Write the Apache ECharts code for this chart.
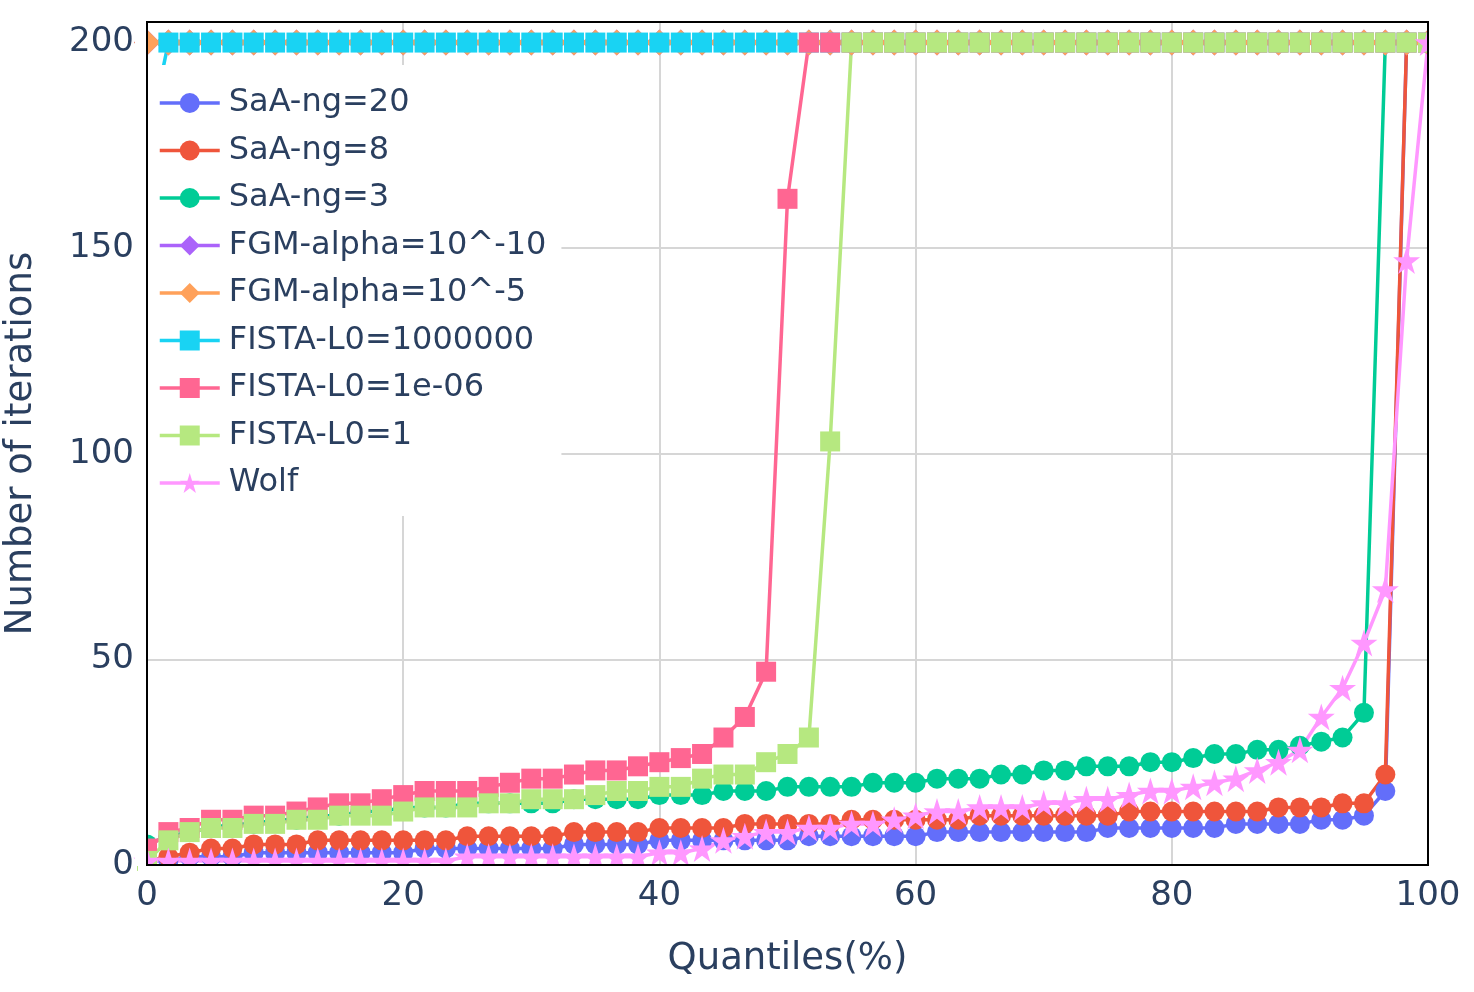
<!DOCTYPE html>
<html>
<head>
<meta charset="utf-8">
<script src="https://cdn.jsdelivr.net/npm/echarts@6/dist/echarts.min.js"></script>
<style>
  html, body { margin: 0; padding: 0; background: #fff; }
  #chart { width: 1474px; height: 992px; }
</style>
</head>
<body>
<div id="chart"></div>
<script>
// quantile positions (%) of the 61 points
const quantiles = [0, 1.67, 3.33, 5, 6.67, 8.33, 10, 11.67, 13.33, 15, 16.67, 18.33, 20, 21.67, 23.33, 25, 26.67, 28.33, 30, 31.67, 33.33, 35, 36.67, 38.33, 40, 41.67, 43.33, 45, 46.67, 48.33, 50, 51.67, 53.33, 55, 56.67, 58.33, 60, 61.67, 63.33, 65, 66.67, 68.33, 70, 71.67, 73.33, 75, 76.67, 78.33, 80, 81.67, 83.33, 85, 86.67, 88.33, 90, 91.67, 93.33, 95, 96.67, 98.33, 100]

const saaNg20 = [1, 1, 2, 2, 2, 3, 3, 3, 3, 3, 3, 3, 3, 4, 4, 4, 4, 4, 4, 4, 5, 5, 5, 5, 6, 6, 6, 6, 6, 6, 6, 7, 7, 7, 7, 7, 7, 8, 8, 8, 8, 8, 8, 8, 8, 9, 9, 9, 9, 9, 9, 10, 10, 10, 10, 11, 11, 12, 18, 200, 200]
const saaNg8 = [1, 2, 3, 4, 4, 5, 5, 5, 6, 6, 6, 6, 6, 6, 6, 7, 7, 7, 7, 7, 8, 8, 8, 8, 9, 9, 9, 9, 10, 10, 10, 10, 10, 11, 11, 11, 11, 11, 11, 12, 12, 12, 12, 12, 12, 12, 13, 13, 13, 13, 13, 13, 13, 14, 14, 14, 15, 15, 22, 200, 200]
const saaNg3 = [5, 7, 8, 9, 10, 10, 11, 11, 12, 12, 13, 13, 14, 14, 14, 15, 15, 15, 15, 15, 16, 16, 16, 16, 17, 17, 17, 18, 18, 18, 19, 19, 19, 19, 20, 20, 20, 21, 21, 21, 22, 22, 23, 23, 24, 24, 24, 25, 25, 26, 27, 27, 28, 28, 29, 30, 31, 37, 200, 200, 200]
const fgmAlpha10 = [200, 200, 200, 200, 200, 200, 200, 200, 200, 200, 200, 200, 200, 200, 200, 200, 200, 200, 200, 200, 200, 200, 200, 200, 200, 200, 200, 200, 200, 200, 200, 200, 200, 200, 200, 200, 200, 200, 200, 200, 200, 200, 200, 200, 200, 200, 200, 200, 200, 200, 200, 200, 200, 200, 200, 200, 200, 200, 200, 200, 200]
const fgmAlpha5 = [200, 200, 200, 200, 200, 200, 200, 200, 200, 200, 200, 200, 200, 200, 200, 200, 200, 200, 200, 200, 200, 200, 200, 200, 200, 200, 200, 200, 200, 200, 200, 200, 200, 200, 200, 200, 200, 200, 200, 200, 200, 200, 200, 200, 200, 200, 200, 200, 200, 200, 200, 200, 200, 200, 200, 200, 200, 200, 200, 200, 200]
const fistaBig = [175, 200, 200, 200, 200, 200, 200, 200, 200, 200, 200, 200, 200, 200, 200, 200, 200, 200, 200, 200, 200, 200, 200, 200, 200, 200, 200, 200, 200, 200, 200, 200, 200, 200, 200, 200, 200, 200, 200, 200, 200, 200, 200, 200, 200, 200, 200, 200, 200, 200, 200, 200, 200, 200, 200, 200, 200, 200, 200, 200, 200]
const fistaTiny = [4, 8, 9, 11, 11, 12, 12, 13, 14, 15, 15, 16, 17, 18, 18, 18, 19, 20, 21, 21, 22, 23, 23, 24, 25, 26, 27, 31, 36, 47, 162, 200, 200, 200, 200, 200, 200, 200, 200, 200, 200, 200, 200, 200, 200, 200, 200, 200, 200, 200, 200, 200, 200, 200, 200, 200, 200, 200, 200, 200, 200]
const fistaOne = [1, 6, 8, 9, 9, 10, 10, 11, 11, 12, 12, 12, 13, 14, 14, 14, 15, 15, 16, 16, 16, 17, 18, 18, 19, 19, 21, 22, 22, 25, 27, 31, 103, 200, 200, 200, 200, 200, 200, 200, 200, 200, 200, 200, 200, 200, 200, 200, 200, 200, 200, 200, 200, 200, 200, 200, 200, 200, 200, 200, 200]
const wolf = [1, 1, 1, 1, 1, 1, 1, 1, 1, 1, 1, 1, 1, 1, 1, 2, 2, 2, 2, 2, 2, 2, 2, 2, 3, 3, 4, 6, 7, 8, 8, 9, 9, 10, 10, 11, 12, 13, 13, 14, 14, 14, 15, 15, 16, 16, 17, 18, 18, 19, 20, 21, 23, 25, 28, 36, 43, 54, 67, 147, 200]

const xTicks = [0, 20, 40, 60, 80, 100]
const yTicks = [0, 50, 100, 150, 200]

const FONT = 'DejaVu Sans'
const TEXT = '#2a3f5f'
const GRID = '#d6d6d6'
const STAR = 'path://M50 0L61.17 34.63L97.55 34.55L68.07 55.87L79.39 90.45L50 69L20.61 90.45L31.93 55.87L2.45 34.55L38.83 34.63Z'

// plot area in pixels
const plot = { left: 147, top: 22, width: 1281, height: 843 }

function pairs (values) {
  return quantiles.map((q, i) => [q, values[i]])
}

function line (name, values, color, symbol, size) {
  return {
    name: name,
    type: 'line',
    data: pairs(values),
    symbol: symbol,
    symbolSize: size,
    showSymbol: true,
    lineStyle: { color: color, width: 3.5 },
    itemStyle: { color: color },
    emphasis: { disabled: true }
  }
}

const chart = echarts.init(document.getElementById('chart'))
chart.setOption({
  animation: false,
  backgroundColor: '#fff',
  grid: Object.assign({ outerBoundsMode: 'none', containLabel: false }, plot),
  xAxis: {
    type: 'value',
    min: xTicks[0],
    max: xTicks[xTicks.length - 1],
    interval: 20,
    name: 'Quantiles(%)',
    nameLocation: 'middle',
    nameGap: 76,
    nameTextStyle: { fontFamily: FONT, fontSize: 37, color: TEXT },
    axisLine: { show: false },
    axisTick: { show: false },
    axisLabel: { fontFamily: FONT, fontSize: 34, color: TEXT, margin: 14 },
    splitLine: { lineStyle: { color: GRID, width: 2 } }
  },
  yAxis: {
    type: 'value',
    min: 0,
    max: 205,
    interval: 50,
    name: 'Number of iterations',
    nameLocation: 'middle',
    nameGap: 107,
    nameTextStyle: { fontFamily: FONT, fontSize: 37, color: TEXT },
    axisLine: { show: false },
    axisTick: { show: false },
    axisLabel: {
      fontFamily: FONT, fontSize: 34, color: TEXT, margin: 13,
      formatter: v => (yTicks.indexOf(v) >= 0 ? String(v) : '')
    },
    splitLine: { lineStyle: { color: GRID, width: 2 } }
  },
  legend: {
    orient: 'vertical',
    left: 148,
    top: 65,
    padding: [18, 15, 13, 10],
    backgroundColor: '#fff',
    itemWidth: 60,
    itemHeight: 25,
    itemGap: 7.5,
    lineStyle: { width: 3.5 },
    textStyle: { fontFamily: FONT, fontSize: 32, color: TEXT, lineHeight: 40, padding: [0, 0, 0, 4] }
  },
  graphic: [
    // hide marker halves outside the plot area, like plotly does
    { type: 'rect', silent: true, z: 100, shape: { x: 135, y: 0, width: 11, height: 866 }, style: { fill: '#fff' } },
    { type: 'rect', silent: true, z: 100, shape: { x: 138, y: 866, width: 1320, height: 11 }, style: { fill: '#fff' } },
    { type: 'rect', silent: true, z: 100, shape: { x: 1429, y: 0, width: 45, height: 877 }, style: { fill: '#fff' } },
    // black frame round the plot
    { type: 'rect', silent: true, z: 101, shape: { x: plot.left, y: plot.top, width: plot.width, height: plot.height }, style: { fill: 'none', stroke: '#000', lineWidth: 2 } }
  ],
  series: [
    line('SaA-ng=20', saaNg20, '#636efa', 'circle', 20),
    line('SaA-ng=8', saaNg8, '#EF553B', 'circle', 20),
    line('SaA-ng=3', saaNg3, '#00cc96', 'circle', 20),
    line('FGM-alpha=10^-10', fgmAlpha10, '#ab63fa', 'diamond', 26),
    line('FGM-alpha=10^-5', fgmAlpha5, '#FFA15A', 'diamond', 26),
    line('FISTA-L0=1000000', fistaBig, '#19d3f3', 'rect', 20),
    line('FISTA-L0=1e-06', fistaTiny, '#FF6692', 'rect', 20),
    line('FISTA-L0=1', fistaOne, '#B6E880', 'rect', 20),
    line('Wolf', wolf, '#FF97FF', STAR, 27)
  ]
})
</script>
</body>
</html>
